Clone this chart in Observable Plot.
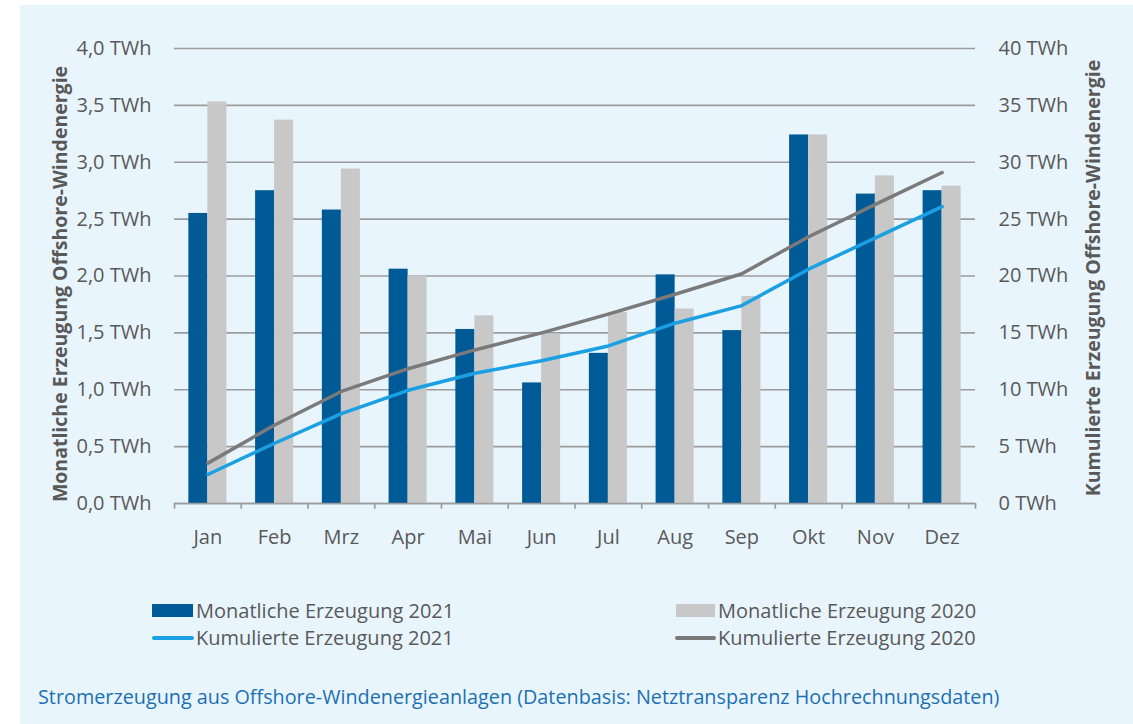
<!DOCTYPE html>
<html>
<head>
<meta charset="utf-8">
<script src="https://cdn.jsdelivr.net/npm/d3@7"></script>
<script src="https://cdn.jsdelivr.net/npm/@observablehq/plot@0.6"></script>
<style>
  html, body { margin: 0; padding: 0; background: #ffffff; width: 1133px; height: 724px; overflow: hidden; }
  #bg { position: absolute; left: 20px; top: 5px; width: 1113px; height: 719px; background: #e9f5fd; }
  #chart { position: absolute; left: 0; top: 0; }
  .leg { position: absolute; font-family: "Open Sans", sans-serif; font-size: 20px; color: #595959; white-space: nowrap; line-height: 22px; }
  .sw { position: absolute; }
  #caption { position: absolute; left: 38px; top: 685px; font-family: "Open Sans", sans-serif; font-size: 19.8px; line-height: 24px; color: #1c70b2; white-space: nowrap; }
</style>
</head>
<body>
<div id="bg"></div>
<div id="chart"></div>
<div class="sw" style="left:152px; top:604px; width:41px; height:13px; background:#005a96;"></div>
<div class="leg" style="left:196px; top:600px;">Monatliche Erzeugung 2021</div>
<div class="sw" style="left:152px; top:636px; width:42px; height:4px; background:#1aa0e3; border-radius:2px;"></div>
<div class="leg" style="left:196px; top:627px;">Kumulierte Erzeugung 2021</div>
<div class="sw" style="left:676px; top:604px; width:39px; height:13px; background:#c8c8c8;"></div>
<div class="leg" style="left:718px; top:600px;">Monatliche Erzeugung 2020</div>
<div class="sw" style="left:675px; top:636px; width:41px; height:4px; background:#7a7a7a; border-radius:2px;"></div>
<div class="leg" style="left:718px; top:627px;">Kumulierte Erzeugung 2020</div>
<div id="caption">Stromerzeugung aus Offshore-Windenergieanlagen (Datenbasis: Netztransparenz Hochrechnungsdaten)</div>
<script>
const months = ["Jan","Feb","Mrz","Apr","Mai","Jun","Jul","Aug","Sep","Okt","Nov","Dez"];
const monthly2021 = [2.55, 2.75, 2.58, 2.06, 1.53, 1.06, 1.32, 2.01, 1.52, 3.24, 2.72, 2.75];
const monthly2020 = [3.53, 3.37, 2.94, 2.00, 1.65, 1.49, 1.68, 1.71, 1.82, 3.24, 2.88, 2.79];
const cumulative2021 = [2.55, 5.3, 7.9, 9.95, 11.45, 12.55, 13.85, 15.85, 17.4, 20.6, 23.35, 26.1];
const cumulative2020 = [3.55, 6.9, 9.85, 11.85, 13.5, 15.0, 16.65, 18.4, 20.2, 23.45, 26.3, 29.1];
const leftTicks = [0, 0.5, 1.0, 1.5, 2.0, 2.5, 3.0, 3.5, 4.0];
const rightTickLabels = [0, 5, 10, 15, 20, 25, 30, 35, 40];
const leftTitle = "Monatliche Erzeugung Offshore-Windenergie";
const rightTitle = "Kumulierte Erzeugung Offshore-Windenergie";

const rows = months.map((m, i) => ({
  month: m, m21: monthly2021[i], m20: monthly2020[i], c21: cumulative2021[i], c20: cumulative2020[i]
}));

const W = 1133, mL = 174, mR = 158;
const step = (W - mL - mR) / months.length;
const rightScale = 10; // right axis = 10x left axis
const gridColor = "#9c9c9c";

const chart = Plot.plot({
  width: W,
  height: 560,
  marginLeft: mL,
  marginRight: mR,
  marginTop: 48,
  marginBottom: 57,
  style: { background: "transparent", fontFamily: "Open Sans, sans-serif", fontSize: "20px", color: "#595959" },
  x: { domain: months, type: "band", paddingInner: 0.43, paddingOuter: 0.215, round: false, label: null },
  y: { domain: [0, 4], label: null },
  marks: [
    Plot.gridY(leftTicks, { stroke: gridColor, strokeOpacity: 1, strokeWidth: 1.7 }),
    Plot.barY(rows, { x: "month", y: "m21", fill: "#005a96", insetRight: 19 }),
    Plot.barY(rows, { x: "month", y: "m20", fill: "#c8c8c8", insetLeft: 19 }),
    Plot.ruleY([0], { stroke: gridColor, strokeWidth: 1.7 }),
    Plot.ruleX(months, { x: d => d, dx: -step / 2, y1: 0, y2: -0.05, stroke: gridColor, strokeWidth: 1.7 }),
    Plot.ruleX(months.slice(-1), { x: d => d, dx: step / 2, y1: 0, y2: -0.05, stroke: gridColor, strokeWidth: 1.7 }),
    Plot.lineY(rows, { x: "month", y: d => d.c20 / rightScale, stroke: "#7a7a7a", strokeWidth: 3.5, strokeLinejoin: "round", strokeLinecap: "round" }),
    Plot.lineY(rows, { x: "month", y: d => d.c21 / rightScale, stroke: "#1aa0e3", strokeWidth: 3.5, strokeLinejoin: "round", strokeLinecap: "round" }),
    Plot.axisX({ tickSize: 0, tickPadding: 26, fontSize: 20 }),
    Plot.axisY(leftTicks, { anchor: "left", tickSize: 0, tickPadding: 23, label: null, fontSize: 20,
      tickFormat: d => d.toFixed(1).replace(".", ",") + " TWh" }),
    Plot.axisY(rightTickLabels.map(v => v / rightScale), { anchor: "right", tickSize: 0, tickPadding: 23, label: null, fontSize: 20,
      tickFormat: d => Math.round(d * rightScale) + " TWh" }),
    Plot.text([leftTitle], { text: d => d, frameAnchor: "left", textAnchor: "middle", rotate: -90,
      dx: -114, dy: 8, fontWeight: "bold", fontSize: 19.5, fill: "#595959" }),
    Plot.text([rightTitle], { text: d => d, frameAnchor: "right", textAnchor: "middle", rotate: -90,
      dx: 118, dy: 2, fontWeight: "bold", fontSize: 19.5, fill: "#595959" })
  ]
});
document.getElementById("chart").appendChild(chart);
</script>
</body>
</html>
